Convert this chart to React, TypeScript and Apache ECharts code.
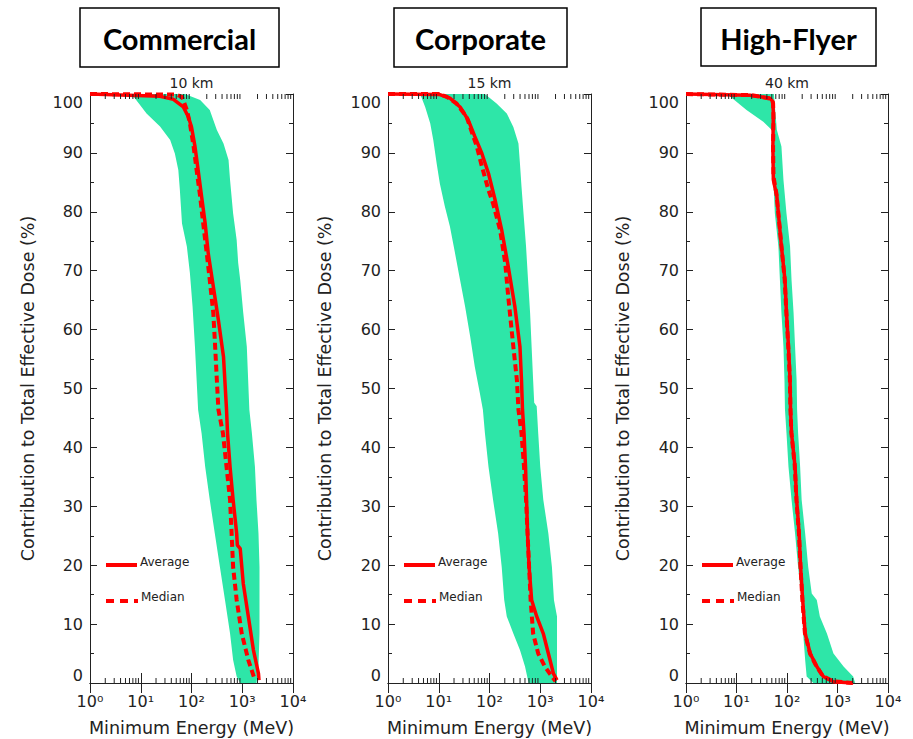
import React, { useEffect, useRef } from 'react';
import * as echarts from 'echarts';

// ---------- data ----------
const PANEL_TITLES = ['Commercial', 'Corporate', 'High-Flyer'];
const ALTITUDES = ['10 km', '15 km', '40 km'];
const X_TICK_LABELS = ['10⁰', '10¹', '10²', '10³', '10⁴'];
const Y_NAME = 'Contribution to Total Effective Dose (%)';
const X_NAME = 'Minimum Energy (MeV)';
const LEGEND_LABELS = ['Average', 'Median'];

type Pt = [number, number]; // [energy MeV, percent]

const commercialLower: Pt[] = [[6.6,100],[13,96.7],[24,94.5],[38,92.2],[47,89.9],[55,87.1],[59,83.7],[65,78],[81,74.1],[93,69.6],[105,63.9],[117,57.1],[135,46.4],[158,42.4],[186,36.7],[229,31.1],[288,25.4],[363,19.7],[457,14.1],[575,8.4],[661,3.9],[776,1.1],[912,0]];
const commercialUpper: Pt[] = [[74,100],[148,99],[229,97.3],[316,93.9],[427,91.6],[537,88.8],[575,85.4],[661,79.7],[776,75.2],[832,71.3],[912,68.4],[1047,62.8],[1230,57.1],[1380,46.4],[1549,42.4],[1778,36.7],[1905,31.1],[2089,25.4],[2188,19.7],[2188,14.1],[2188,8.4],[2089,2.8],[1905,0]];
const commercialAverage: Pt[] = [[1,100],[24,99.6],[44,99.1],[69,97.8],[87,96.1],[100,94.4],[117,91.1],[135,87.1],[158,82.6],[186,78],[214,72.9],[269,67.3],[339,61.6],[427,55.4],[490,46.4],[513,42.4],[575,36.7],[661,31.1],[776,25.4],[800,23.4],[912,22.8],[1047,16.9],[1318,11.3],[1660,5.6],[2089,1.6],[2138,0.5]];
const commercialMedian: Pt[] = [[1,100],[50,99.9],[65,99.5],[81,97.3],[93,95],[110,91.1],[126,87.1],[148,82.6],[170,78],[200,72.9],[229,68.4],[269,62.8],[288,58.2],[316,51.4],[339,46.4],[417,42.4],[490,36.7],[575,31.1],[617,25.4],[661,19.7],[776,14.1],[977,8.4],[1318,3.9],[1778,0.5]];

const corporateLower: Pt[] = [[4.3,100],[5.4,97.8],[6.8,95],[7.8,92.2],[9.1,88.2],[10.5,84.8],[13.2,80.9],[16.6,77.5],[20.9,73],[26.3,68.4],[33.1,63.9],[41.7,58.8],[51.3,53.7],[64.6,49.2],[74.1,46.4],[81.3,42.4],[95.5,36.7],[117.5,31.1],[148,25.4],[174,19.7],[195,14.1],[219,11.3],[295,8.4],[398,5.6],[501,2.8],[589,0]];
const corporateUpper: Pt[] = [[81,100],[138,98.4],[219,96.7],[295,94.4],[372,91.6],[398,88.2],[427,84.3],[468,79.7],[525,74.1],[575,68.4],[631,62.8],[676,57.1],[724,51.4],[760,47.6],[851,47],[912,42.4],[1000,36.7],[1148,31.1],[1445,25.4],[1698,19.7],[1862,14.1],[2138,11.3],[2138,5.6],[2138,0]];
const corporateAverage: Pt[] = [[1,100],[10.5,99.9],[16.6,99.3],[26.3,97.8],[38,95.6],[51.3,92.8],[70.8,89.9],[95.5,86.5],[129,82],[174,76.9],[234,70.7],[316,63.9],[398,57.1],[427,51.4],[447,46.4],[479,42.4],[513,36.7],[537,31.1],[562,25.4],[603,19.7],[676,14.1],[851,11.3],[1148,8.4],[1445,5],[1820,1.6],[2138,0.5]];
const corporateMedian: Pt[] = [[1,100],[10,100],[14.5,99.5],[22.4,98.4],[35.5,96.1],[47.9,92.8],[56.2,91.1],[70.8,87.7],[95.5,83.7],[117.5,81.4],[162,76.9],[204,71.3],[234,65.6],[295,57.1],[347,51.4],[372,46.4],[427,42.4],[479,36.7],[525,31.1],[562,25.4],[603,19.7],[646,14.1],[724,8.4],[912,5],[1230,2.8],[1698,1.1],[2000,0.3]];

const highFlyerLower: Pt[] = [[6.5,100],[15.8,97.3],[33.9,95.3],[50.1,93.9],[53.7,91.1],[53.7,85.4],[57.5,79.7],[67.6,74.1],[72.4,68.4],[77.6,62.8],[85.1,57.1],[89.1,51.4],[91.2,46.4],[97.7,42.4],[107,36.7],[123,31.1],[144.5,25.4],[166,19.7],[195,14.1],[209,8.4],[229,3.9],[245,1.1],[331,0]];
const highFlyerUpper: Pt[] = [[55,100],[63,93.9],[77.6,91.1],[85.1,85.4],[97.7,79.7],[115,74.1],[123,68.4],[135,62.8],[144.5,57.1],[155,51.4],[158.5,46.4],[166,42.4],[182,36.7],[195,31.1],[229,25.4],[263,19.7],[309,15.2],[389,14.1],[447,11.3],[617,8.4],[832,5],[1318,2.8],[2042,1.1],[2239,0]];
const highFlyerAverage: Pt[] = [[1,100],[18.6,99.8],[45.7,99.3],[52.5,98.7],[53.7,96.7],[52.5,91.1],[53.7,85.4],[63,82.6],[67.6,79.7],[77.6,74.1],[91.2,68.4],[97.7,62.8],[107,57.1],[115,51.4],[117.5,46.4],[123,42.4],[144.5,36.7],[155,31.1],[174,25.4],[186,19.7],[204,14.1],[229,8.4],[288,5],[389,2.8],[525,1.1],[832,0.2],[2042,0]];
const highFlyerMedian: Pt[] = [[1,100],[20,99.8],[47,99.2],[53,98.5],[54,96],[53,91],[54,86],[62,83],[67,80],[78,74],[90,68.5],[97,63],[106,57],[114,51.5],[117,46.5],[122,42.5],[142,37],[154,31],[172,25.5],[185,19.8],[202,14],[226,8.5],[285,5],[380,2.9],[510,1.2],[800,0.3],[2000,0]];

const LOWER = [commercialLower, corporateLower, highFlyerLower];
const UPPER = [commercialUpper, corporateUpper, highFlyerUpper];
const AVERAGE = [commercialAverage, corporateAverage, highFlyerAverage];
const MEDIAN = [commercialMedian, corporateMedian, highFlyerMedian];

// ---------- layout / style ----------
const GRIDS = [
  { left: 90, top: 94, width: 203, height: 589 },
  { left: 388, top: 94, width: 203, height: 589 },
  { left: 686, top: 94, width: 202, height: 589 },
];
const TITLE_BOXES = [
  { x: 80, y: 8, w: 199, h: 59 },
  { x: 394, y: 8, w: 173, h: 59 },
  { x: 701, y: 8, w: 175, h: 58 },
];
const YNAME_X = [28, 325, 623];
const GREEN = '#2ee6a8';
const RED = '#ff0000';
const INK = '#222222';
const FONT = '"DejaVu Sans", sans-serif';

function minorTickValues(): number[] {
  const out: number[] = [];
  for (let d = 0; d < 4; d++) {
    for (let k = 2; k <= 9; k++) out.push(k * Math.pow(10, d));
  }
  return out;
}

function buildOption() {
  const grid: any[] = [];
  const xAxis: any[] = [];
  const yAxis: any[] = [];
  const series: any[] = [];
  const graphic: any[] = [];
  const minor = minorTickValues().map((v) => [v, 0]);

  GRIDS.forEach((g, i) => {
    grid.push({ ...g, containLabel: false });
    const xBase = {
      type: 'log',
      logBase: 10,
      min: 1,
      max: 10000,
      gridIndex: i,
      splitLine: { show: false },
      axisLine: { show: true, lineStyle: { color: INK, width: 1 } },
      axisTick: { show: true, inside: true, length: 10, lineStyle: { color: INK, width: 1 } },
    };
    xAxis.push({
      ...xBase,
      position: 'bottom',
      axisLabel: {
        show: true,
        margin: 10,
        fontFamily: FONT,
        fontSize: 16,
        color: INK,
        formatter: (v: number) => X_TICK_LABELS[Math.round(Math.log10(v))] ?? '',
      },
    });
    xAxis.push({ ...xBase, position: 'top', axisLabel: { show: false } });
    const yBase = {
      type: 'value',
      min: 0,
      max: 100,
      interval: 10,
      gridIndex: i,
      splitLine: { show: false },
      axisLine: { show: true, lineStyle: { color: INK, width: 1 } },
      axisTick: { show: true, inside: true, length: 7, lineStyle: { color: INK, width: 1 } },
      minorTick: { show: true, splitNumber: 2, length: 4, lineStyle: { color: INK, width: 1 } },
    };
    yAxis.push({
      ...yBase,
      position: 'left',
      axisLabel: {
        show: true,
        margin: 7,
        fontFamily: FONT,
        fontSize: 16,
        color: INK,
        verticalAlignMaxLabel: 'top',
        verticalAlignMinLabel: 'bottom',
      },
    });
    yAxis.push({ ...yBase, position: 'right', axisLabel: { show: false } });

    const polygon = [...LOWER[i], ...UPPER[i].slice().reverse()];
    series.push({
      type: 'custom',
      name: 'band' + i,
      xAxisIndex: 2 * i,
      yAxisIndex: 2 * i,
      data: polygon,
      encode: { x: 0, y: 1 },
      clip: true,
      z: 1,
      renderItem: (params: any, api: any) => {
        if (params.dataIndex !== 0) return null;
        const pts = polygon.map((p) => api.coord(p));
        return { type: 'polygon', shape: { points: pts }, style: { fill: GREEN, stroke: 'none' } };
      },
    });
    series.push({
      type: 'line',
      name: LEGEND_LABELS[1],
      xAxisIndex: 2 * i,
      yAxisIndex: 2 * i,
      data: MEDIAN[i],
      showSymbol: false,
      symbol: 'none',
      clip: false,
      z: 3,
      lineStyle: { color: RED, width: 4, type: [7, 4] },
    });
    series.push({
      type: 'line',
      name: LEGEND_LABELS[0],
      xAxisIndex: 2 * i,
      yAxisIndex: 2 * i,
      data: AVERAGE[i],
      showSymbol: false,
      symbol: 'none',
      clip: false,
      z: 4,
      lineStyle: { color: RED, width: 3.5 },
    });
    series.push({
      type: 'custom',
      name: 'minorTicks' + i,
      xAxisIndex: 2 * i,
      yAxisIndex: 2 * i,
      data: minor,
      encode: { x: 0, y: 1 },
      clip: false,
      z: 5,
      silent: true,
      renderItem: (params: any, api: any) => {
        const v = api.value(0);
        const b = api.coord([v, 0]);
        const t = api.coord([v, 100]);
        return {
          type: 'group',
          children: [
            { type: 'line', shape: { x1: b[0], y1: b[1], x2: b[0], y2: b[1] - 5 }, style: { stroke: INK, lineWidth: 1 } },
            { type: 'line', shape: { x1: t[0], y1: t[1], x2: t[0], y2: t[1] + 5 }, style: { stroke: INK, lineWidth: 1 } },
          ],
        };
      },
    });

    const cx = g.left + g.width / 2;
    const box = TITLE_BOXES[i];
    graphic.push({
      type: 'rect',
      shape: { x: box.x, y: box.y, width: box.w, height: box.h },
      style: { fill: '#ffffff', stroke: '#000000', lineWidth: 1.5 },
    });
    graphic.push({
      type: 'text',
      x: box.x + box.w / 2,
      y: box.y + box.h / 2 + 1,
      style: {
        text: PANEL_TITLES[i],
        fontFamily: 'Lato, "Open Sans", sans-serif',
        fontWeight: 'bold',
        fontSize: 29,
        fill: '#000000',
        align: 'center',
        verticalAlign: 'middle',
      },
    });
    graphic.push({
      type: 'text',
      x: cx,
      y: 83,
      style: { text: ALTITUDES[i], fontFamily: FONT, fontSize: 14, fill: INK, align: 'center', verticalAlign: 'middle' },
    });
    graphic.push({
      type: 'text',
      x: YNAME_X[i],
      y: g.top + g.height / 2,
      rotation: Math.PI / 2,
      style: { text: Y_NAME, fontFamily: FONT, fontSize: 17.5, fill: INK, align: 'center', verticalAlign: 'middle' },
    });
    graphic.push({
      type: 'text',
      x: cx,
      y: 728,
      style: { text: X_NAME, fontFamily: FONT, fontSize: 17.5, fill: INK, align: 'center', verticalAlign: 'middle' },
    });
    // legend
    const lx = g.left + 16;
    graphic.push({
      type: 'line',
      shape: { x1: lx, y1: 565, x2: lx + 31, y2: 565 },
      style: { stroke: RED, lineWidth: 4 },
      z: 10,
    });
    graphic.push({
      type: 'text',
      x: lx + 34,
      y: 562,
      style: { text: LEGEND_LABELS[0], fontFamily: FONT, fontSize: 12, fill: INK, align: 'left', verticalAlign: 'middle' },
      z: 10,
    });
    graphic.push({
      type: 'line',
      shape: { x1: lx, y1: 601, x2: lx + 32, y2: 601 },
      style: { stroke: RED, lineWidth: 4, lineDash: [8, 6] },
      z: 10,
    });
    graphic.push({
      type: 'text',
      x: lx + 35,
      y: 597,
      style: { text: LEGEND_LABELS[1], fontFamily: FONT, fontSize: 12, fill: INK, align: 'left', verticalAlign: 'middle' },
      z: 10,
    });
  });

  return {
    animation: false,
    backgroundColor: '#ffffff',
    grid,
    xAxis,
    yAxis,
    series,
    graphic,
  };
}

export default function App() {
  const ref = useRef<HTMLDivElement>(null);
  useEffect(() => {
    document.body.style.margin = '0';
    if (!ref.current) return;
    const chart = echarts.init(ref.current, undefined, { renderer: 'svg' });
    chart.setOption(buildOption() as any);
    return () => chart.dispose();
  }, []);
  return <div ref={ref} style={{ width: 913, height: 739 }} />;
}
